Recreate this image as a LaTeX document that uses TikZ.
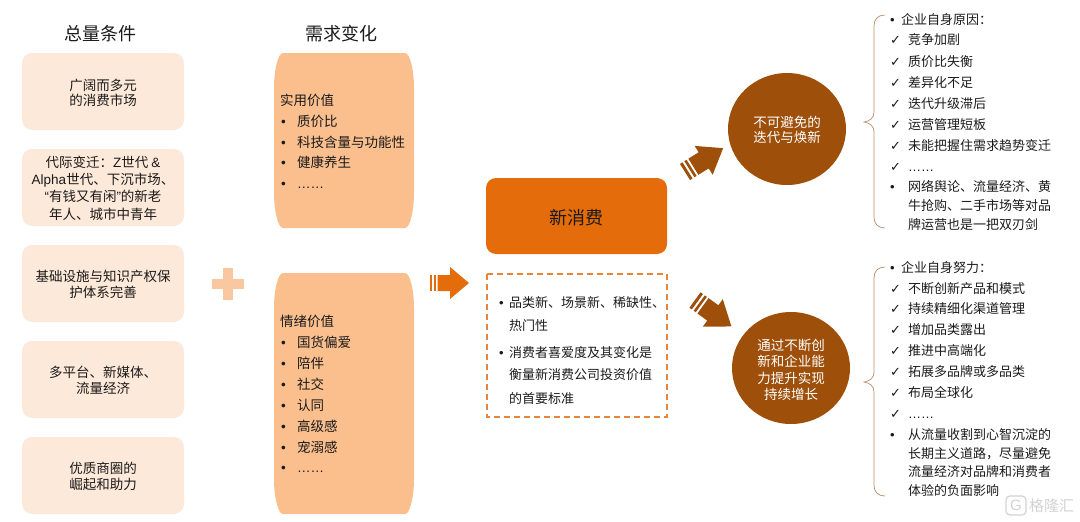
\documentclass[tikz,border=0pt]{standalone}
\usepackage{fontspec}
\setmainfont{Noto Sans CJK SC}
\newfontfamily\lat{Liberation Sans}
\newfontfamily\sym{DejaVu Sans}
\usetikzlibrary{shapes.geometric}
\definecolor{inkc}{HTML}{1A1A1A}
\definecolor{palebox}{HTML}{FDE9D9}
\definecolor{midbox}{HTML}{FBBF8E}
\definecolor{plusc}{HTML}{F9C8A0}
\definecolor{orangec}{HTML}{E46C0A}
\definecolor{dashc}{HTML}{E9853A}
\definecolor{brownc}{HTML}{9E4F0A}
\definecolor{bracec}{HTML}{BC8F70}
\definecolor{markc}{HTML}{D2D2D2}
\newcommand{\fs}[1]{\fontsize{#1}{#1}\selectfont}
\newcommand{\dotsline}{{\lat ……}}
% x y angle length colour shaft-half head-length head-half stripe-scale
\newcommand{\blockarrow}[9]{%
  \begin{scope}[shift={(#1,#2)},rotate=#3,fill=#5]
    \fill (0,-#6) rectangle (2.3*#9,#6);
    \fill (4*#9,-#6) rectangle (6*#9,#6);
    \fill (7.6*#9,-#6) -- (#4-#7,-#6) -- (#4-#7,-#8) -- (#4,0) -- (#4-#7,#8) -- (#4-#7,#6) -- (7.6*#9,#6) -- cycle;
  \end{scope}}
\tikzset{
  txt/.style={inner sep=0pt,text=inkc,font=\fs{13},text height=11.5pt,text depth=1.5pt},
  lefttxt/.style={txt,font=\fs{13.5}},
  leftline/.style={txt,anchor=west},
  midline/.style={txt,anchor=west,font=\fs{13.5}},
  checkmark/.style={txt,anchor=west,font=\sym\fs{13}},
  titletxt/.style={inner sep=0pt,text=inkc,font=\fs{18}},
  palecard/.style={fill=palebox,rounded corners=10pt},
  bubble/.style={ellipse,fill=brownc,minimum width=118pt,minimum height=112pt,inner sep=0pt},
  bubbletxt/.style={inner sep=0pt,text=white,align=center,font=\fs{13.5}},
  bracepath/.style={draw=bracec,line width=0.7pt},
}
\begin{document}
\begin{tikzpicture}[x=1pt,y=-1pt]
\useasboundingbox (0,0) rectangle (1080,522);
% titles
\node[titletxt] (t1) at (100,33.5) {总量条件};
\node[titletxt] (t2) at (341,33.5) {需求变化};
% left cards
\foreach \a/\b [count=\n] in {53/130,149/226,245/322,341/418,437/514}
  \fill[palecard] (22,\a) rectangle (184,\b);
\node[lefttxt] (a1a) at (103,85) {广阔而多元};
\node[lefttxt] (a1b) at (103,100) {的消费市场};
\node[lefttxt] (a2a) at (103,162) {代际变迁：{\lat Z}世代 {\lat \&}};
\node[lefttxt] (a2b) at (103,179) {{\lat Alpha}世代、下沉市场、};
\node[lefttxt] (a2c) at (103,196) {{\lat “}有钱又有闲{\lat ”}的新老};
\node[lefttxt] (a2d) at (103,214) {年人、城市中青年};
\node[lefttxt] (a3a) at (103,276) {基础设施与知识产权保};
\node[lefttxt] (a3b) at (103,292) {护体系完善};
\node[lefttxt] (a4a) at (103,372) {多平台、新媒体、};
\node[lefttxt] (a4b) at (103,388) {流量经济};
\node[lefttxt] (a5a) at (103,468) {优质商圈的};
\node[lefttxt] (a5b) at (103,484) {崛起和助力};
% plus
\fill[plusc] (212,279) rectangle (244,289);
\fill[plusc] (223,268) rectangle (233,300);
% middle boxes
\fill[midbox] (283,53) -- (405,53) .. controls (410,53) and (414,70) .. (414,88) -- (414,193) .. controls (414,211) and (410,228) .. (405,228) -- (283,228) .. controls (278,228) and (274,211) .. (274,193) -- (274,88) .. controls (274,70) and (278,53) .. (283,53) -- cycle;
\fill[midbox] (283,273) -- (405,273) .. controls (410,273) and (414,290) .. (414,308) -- (414,479) .. controls (414,497) and (410,514) .. (405,514) -- (283,514) .. controls (278,514) and (274,497) .. (274,479) -- (274,308) .. controls (274,290) and (278,273) .. (283,273) -- cycle;
\node[midline] (b0) at (280,100) {实用价值};
\foreach \t/\y [count=\n] in {质价比/121,科技含量与功能性/142,健康养生/162,\dotsline/183}{
  \node[midline] (bb\n) at (281,\y) {\lat •};
  \node[midline] (bt\n) at (297,\y) {\t};
}
\node[midline] (c0) at (280,321) {情绪价值};
\foreach \t/\y [count=\n] in {国货偏爱/342,陪伴/363,社交/384,认同/405,高级感/426,宠溺感/447,\dotsline/467}{
  \node[midline] (cb\n) at (281,\y) {\lat •};
  \node[midline] (ct\n) at (297,\y) {\t};
}
% arrows
\blockarrow{430}{283}{0}{39}{orangec}{8}{19}{16}{1}
\blockarrow{685}{172}{32}{45}{brownc}{9.5}{23}{17}{1.3}
\blockarrow{695}{300}{-36}{45}{brownc}{9.5}{23}{17}{1.3}
% centre
\fill[orangec,rounded corners=10pt] (486,178) rectangle (667,254);
\node[titletxt] (n) at (576,218) {新消费};
\draw[dashc,line width=1.5pt,dash pattern=on 6pt off 4pt] (487,274) rectangle (667,417);
\foreach \t/\y [count=\n] in {品类新、场景新、稀缺性、/302,热门性/325,消费者喜爱度及其变化是/352,衡量新消费公司投资价值/374,的首要标准/398}
  \node[leftline] (d\n) at (509,\y) {\t};
\node[leftline] (db1) at (499,302) {\lat •};
\node[leftline] (db2) at (499,352) {\lat •};
% circles
\node[bubble] (e1) at (787,129) {};
\node[bubbletxt] (e1t) at (787,130) {不可避免的\\[2pt]迭代与焕新};
\node[bubble] (e2) at (791,368) {};
\node[bubbletxt] (e2t) at (791,370) {通过不断创\\[3pt]新和企业能\\[3pt]力提升实现\\[3pt]持续增长};
% braces
\draw[bracepath] (885,15) .. controls (878,15) and (874,19) .. (874,26) -- (874,112) .. controls (874,118) and (870,121) .. (864,122) .. controls (870,123) and (874,126) .. (874,132) -- (874,217) .. controls (874,224) and (878,228) .. (885,228);
\draw[bracepath] (885,267) .. controls (878,267) and (874,271) .. (874,278) -- (874,372) .. controls (874,378) and (870,381) .. (864,382) .. controls (870,383) and (874,386) .. (874,392) -- (874,485) .. controls (874,492) and (878,496) .. (885,496);
% right list 1
\node[leftline] (f0b) at (890,19) {\lat •};
\node[leftline] (f0) at (901,19) {企业自身原因：};
\foreach \t/\y [count=\n] in {竞争加剧/40,质价比失衡/61,差异化不足/82,迭代升级滞后/103,运营管理短板/124,未能把握住需求趋势变迁/145,\dotsline/166}{
  \node[checkmark] (fc\n) at (890,\y) {✓};
  \node[leftline] (ft\n) at (908,\y) {\t};
}
\node[leftline] (f8b) at (890,186) {\lat •};
\foreach \t/\y [count=\n] in {网络舆论、流量经济、黄/186,牛抢购、二手市场等对品/205,牌运营也是一把双刃剑/224}
  \node[leftline] (fl\n) at (908,\y) {\t};
% right list 2
\node[leftline] (g0b) at (890,267) {\lat •};
\node[leftline] (g0) at (901,267) {企业自身努力：};
\foreach \t/\y [count=\n] in {不断创新产品和模式/288,持续精细化渠道管理/308,增加品类露出/329,推进中高端化/350,拓展多品牌或多品类/371,布局全球化/392,\dotsline/413}{
  \node[checkmark] (gc\n) at (890,\y) {✓};
  \node[leftline] (gt\n) at (908,\y) {\t};
}
\node[leftline] (g8b) at (890,434) {\lat •};
\foreach \t/\y [count=\n] in {从流量收割到心智沉淀的/434,长期主义道路，尽量避免/453,流量经济对品牌和消费者/471,体验的负面影响/490}
  \node[leftline] (gl\n) at (908,\y) {\t};
% watermark
\draw[markc,line width=1.2pt,rounded corners=4pt] (1006,496) rectangle (1026,515);
\node[inner sep=0pt,text=markc,font=\lat\fs{15}] (wg) at (1016,505.5) {G};
\node[inner sep=0pt,anchor=west,text=markc,font=\fs{15}] (w) at (1029,505.5) {格隆汇};
\end{tikzpicture}
\end{document}
